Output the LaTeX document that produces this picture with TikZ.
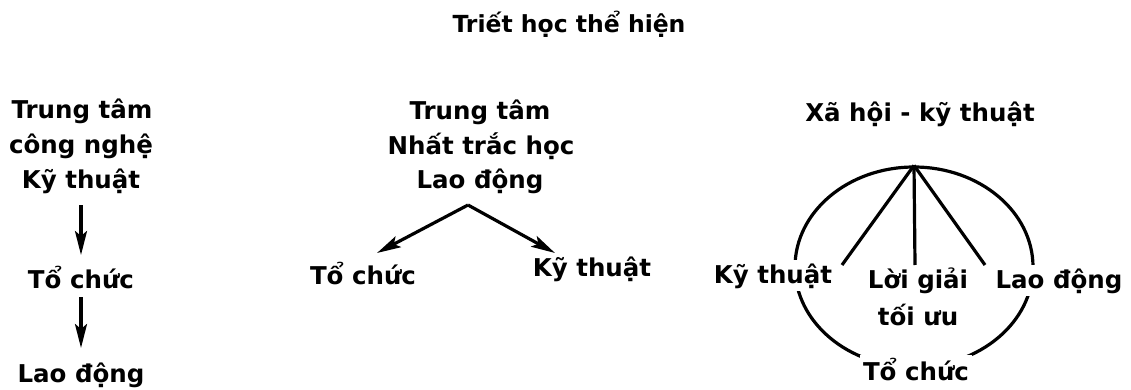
\documentclass[tikz,border=0pt]{standalone}
\usepackage{fontspec}
\setmainfont{DejaVu Sans}
\usetikzlibrary{arrows.meta,calc,shapes.geometric}

\begin{document}
\begin{tikzpicture}[x=1pt,y=-1pt,
  lbl/.style={font=\bfseries\fontsize{24.5}{35}\selectfont, inner sep=1pt, anchor=base},
  mask/.style={lbl, fill=white, inner sep=3pt},
  arr/.style={line width=3.2pt, -{Stealth[length=24pt,width=12pt,inset=5pt]}},
  spoke/.style={line width=3.2pt},
  ring/.style={draw, ellipse, line width=3.2pt, inner sep=0pt}]
\useasboundingbox (0,0) rectangle (1131,390);

% heading
\node[lbl, font=\bfseries\fontsize{23.5}{30}\selectfont] (title) at (569,33) {Triết học thể hiện};

% left: chain of three levels
\node[lbl] (l1) at (82,119) {Trung tâm};
\node[lbl] (l2) at (81,154) {công nghệ};
\node[lbl] (l3) at (81,188) {Kỹ thuật};
\node[lbl] (l4) at (81,288) {Tổ chức};
\node[lbl] (l5) at (81,382) {Lao động};
\draw[arr] ($(l3.base)+(0,17)$) -- ($(l4.base)+(0,-33)$);
\draw[arr] ($(l4.base)+(0,9)$) -- ($(l5.base)+(0,-34)$);

% middle: branching
\node[lbl] (m1) at (480,120) {Trung tâm};
\node[lbl] (m2) at (481,155) {Nhất trắc học};
\node[lbl] (m3) at (480,188) {Lao động};
\node[lbl] (m4) at (363,284) {Tổ chức};
\node[lbl] (m5) at (592,276) {Kỹ thuật};
\coordinate (mtop) at ($(m3.base)+(-12,17)$);
\draw[arr] (mtop) -- ($(m4.base)+(14,-31)$);
\draw[arr] (mtop) -- ($(m5.base)+(-37,-23)$);

% right: ring with spokes
\node[lbl] (r0) at (920,122) {Xã hội - kỹ thuật};
\node[ring, minimum width=238pt, minimum height=200pt] (ring) at (914,267) {};
\coordinate (sL) at (842,265);
\coordinate (sM) at (915,265);
\coordinate (sR) at (985,265);
\draw[spoke] (ring.north) -- (sL);
\draw[spoke] (ring.north) -- (sM);
\draw[spoke] (ring.north) -- (sR);
\node[mask] (rK) at (773,283) {Kỹ thuật};
\node[mask] (rL) at (1059,288) {Lao động};
\node[lbl] (rS1) at (918,288) {Lời giải};
\node[lbl] (rS2) at (918,325) {tối ưu};
\node[mask] (rT) at (916,380) {Tổ chức};
\end{tikzpicture}
\end{document}
